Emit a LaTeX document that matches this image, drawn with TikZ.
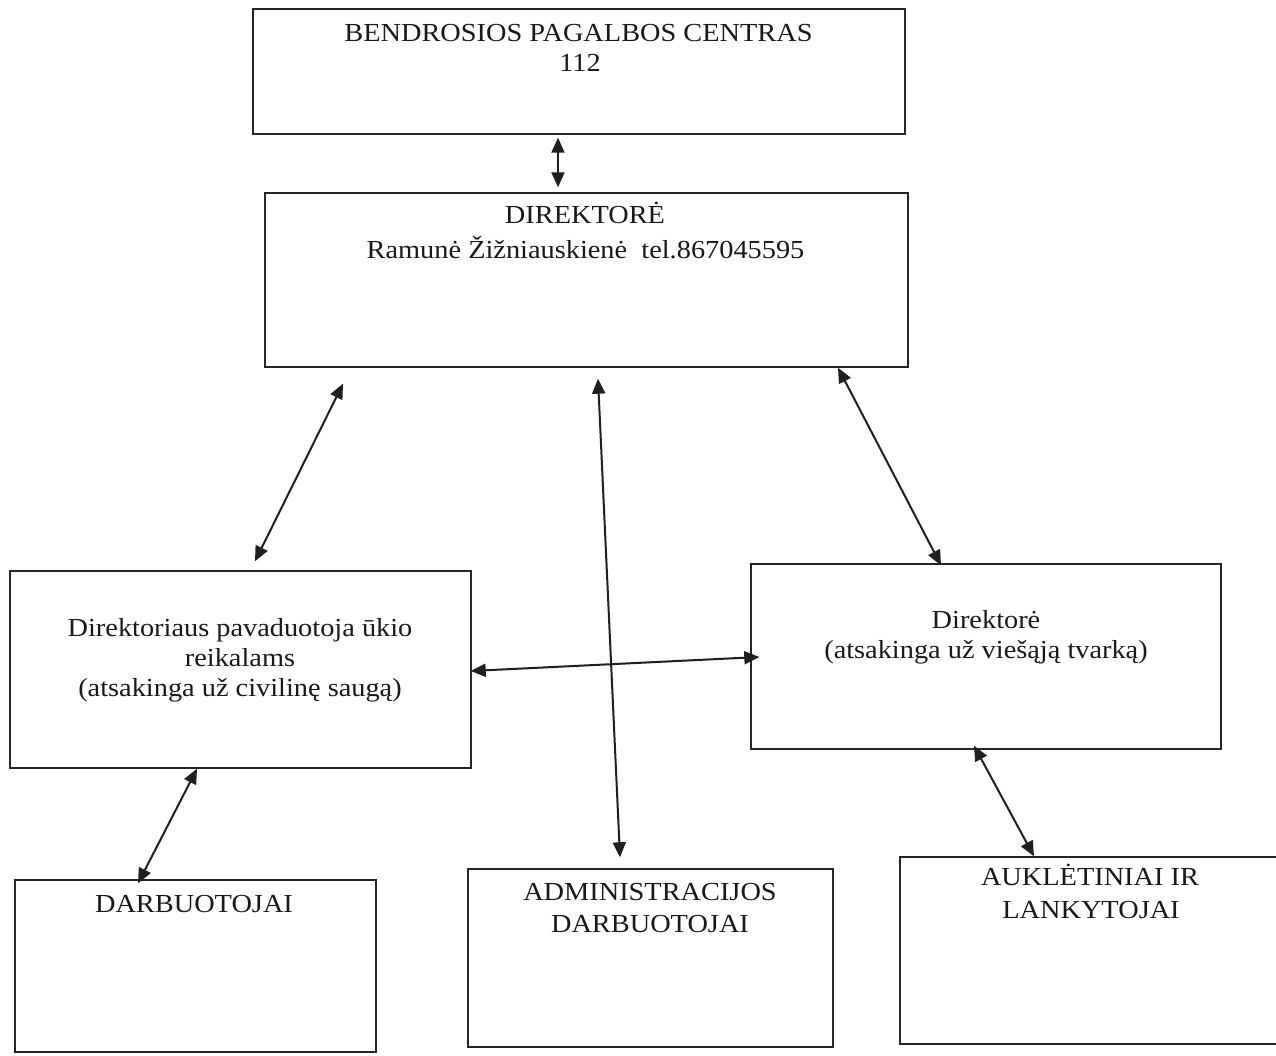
\documentclass[tikz,border=0pt]{standalone}
\usepackage{fontspec}
\setmainfont[FakeStretch=1.09]{Liberation Serif}
\usetikzlibrary{arrows.meta,calc}
\tikzset{
  box/.style={draw=black!85, line width=1.4pt, rectangle, inner sep=0pt},
  txt/.style={anchor=base, inner sep=0pt, font=\fontsize{26}{30}\selectfont, text=black!90},
  arr/.style={line width=2pt, draw=black!88, {Triangle[length=15pt,width=13pt]}-{Triangle[length=15pt,width=13pt]}}
}
\begin{document}
\begin{tikzpicture}[x=1pt,y=-1pt]
\useasboundingbox (0,0) rectangle (1276,1055);
\clip (0,0) rectangle (1276,1055);
\fill[white] (0,0) rectangle (1276,1055);
% boxes
\node[box, minimum width=652pt, minimum height=125pt] (top) at (579,71.5) {};
\node[box, minimum width=643pt, minimum height=174pt] (dir) at (586.5,280) {};
\node[box, minimum width=461pt, minimum height=197pt] (lft) at (240.5,669.5) {};
\node[box, minimum width=470pt, minimum height=185pt] (rgt) at (986,656.5) {};
\node[box, minimum width=361pt, minimum height=172pt] (bl) at (195.5,966) {};
\node[box, minimum width=365pt, minimum height=178pt] (bm) at (650.5,958) {};
\node[box, minimum width=390pt, minimum height=187pt] (br) at (1095,950.5) {};
% texts
\node[txt] (t1a) at (578.5,41.7) {BENDROSIOS PAGALBOS CENTRAS};
\node[txt] (t1b) at (580,71.7) {112};
\node[txt] (t2a) at (585,223) {DIREKTORĖ};
\node[txt] (t2b) at (585.5,258) {Ramunė Žižniauskienė\ \ tel.867045595};
\node[txt] (t3a) at (240,636.7) {Direktoriaus pavaduotoja ūkio};
\node[txt] (t3b) at (240,666.7) {reikalams};
\node[txt] (t3c) at (240,696.7) {(atsakinga už civilinę saugą)};
\node[txt] (t4a) at (986,628) {Direktorė};
\node[txt] (t4b) at (986,658) {(atsakinga už viešąją tvarką)};
\node[txt] (t5a) at (194,912) {DARBUOTOJAI};
\node[txt] (t6a) at (650,900) {ADMINISTRACIJOS};
\node[txt] (t6b) at (650,932) {DARBUOTOJAI};
\node[txt] (t7a) at (1090,885) {AUKLĖTINIAI IR};
\node[txt] (t7b) at (1091,918) {LANKYTOJAI};
% connectors
\draw[arr] ($(top.south)+(-21,3)$) -- ($(dir.north)+(-28.5,-5)$);
\draw[arr] ($(dir.south)+(-243.5,16)$) -- ($(lft.north)+(14.5,-9)$);
\draw[arr] ($(dir.south)+(11.5,11)$) -- ($(bm.north)+(-30.5,-11)$);
\draw[arr] ($(dir.south)+(251.5,0)$) -- ($(rgt.north)+(-45,2)$);
\draw[arr] ($(lft.east)+(-1,1.5)$) -- ($(rgt.west)+(9,0.5)$);
\draw[arr] ($(lft.south)+(-43.5,0)$) -- ($(bl.north)+(-57.5,4)$);
\draw[arr] ($(rgt.south)+(-12,-4)$) -- ($(br.north)+(-61,0)$);
\end{tikzpicture}
\end{document}
